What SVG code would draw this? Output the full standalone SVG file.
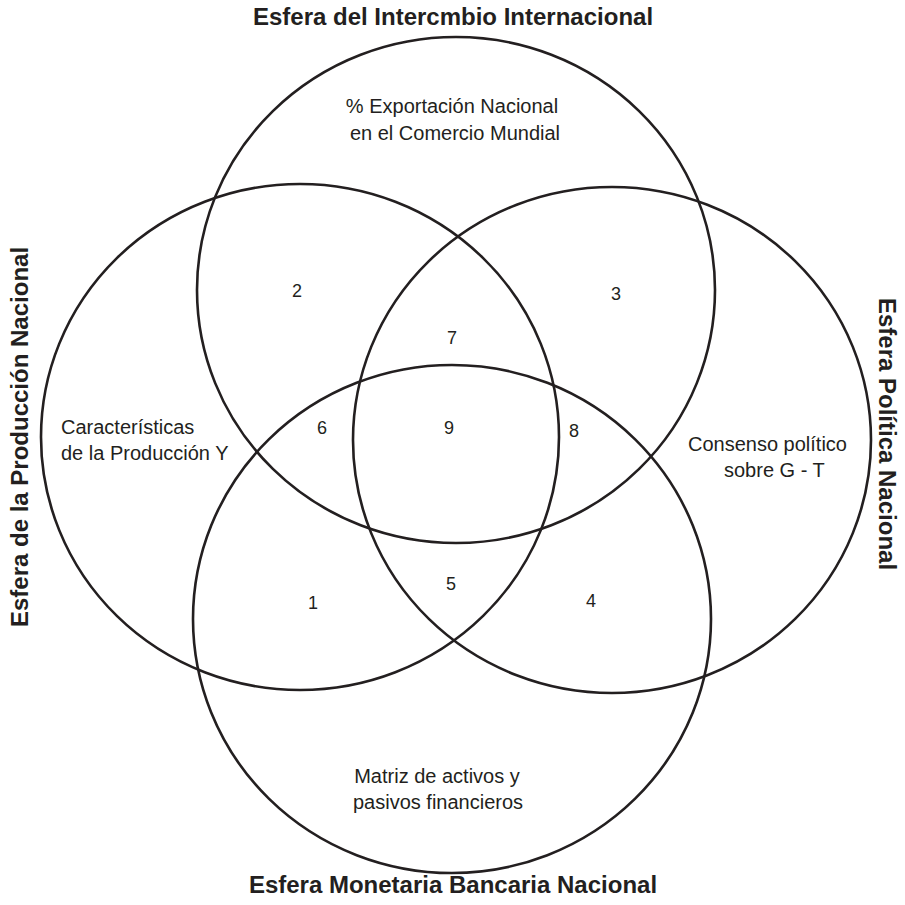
<svg xmlns="http://www.w3.org/2000/svg" width="905" height="905" viewBox="0 0 905 905">
  <style>
    .ring { fill: none; stroke: #231f20; stroke-width: 2.6; }
    .title { font-family: "Liberation Sans", Arial, sans-serif; font-weight: bold; font-size: 24px; fill: #231f20; text-anchor: middle; }
    .lbl { font-family: "Liberation Sans", Arial, sans-serif; font-size: 20px; fill: #231f20; }
    .mid { text-anchor: middle; }
    .num { font-family: "Liberation Sans", Arial, sans-serif; font-size: 18px; fill: #231f20; text-anchor: middle; }
  </style>
  <rect width="905" height="905" fill="#ffffff"/>

  <!-- Spheres -->
  <g id="esfera-intercambio">
    <ellipse class="ring" cx="456" cy="290" rx="259" ry="253"/>
    <text class="title" x="453" y="25">Esfera del Intercmbio Internacional</text>
    <text class="lbl mid" x="452" y="113">% Exportación Nacional</text>
    <text class="lbl mid" x="455" y="140">en el Comercio Mundial</text>
  </g>
  <g id="esfera-produccion">
    <ellipse class="ring" cx="300" cy="437" rx="259" ry="253"/>
    <text class="title" transform="translate(28 437) rotate(-90)">Esfera de la Producción Nacional</text>
    <text class="lbl" x="61" y="434">Características</text>
    <text class="lbl" x="61" y="460">de la Producción Y</text>
  </g>
  <g id="esfera-politica">
    <ellipse class="ring" cx="612" cy="440" rx="259" ry="253"/>
    <text class="title" transform="translate(879 434) rotate(90)">Esfera Política Nacional</text>
    <text class="lbl" x="688" y="451">Consenso político</text>
    <text class="lbl" x="724" y="477">sobre G - T</text>
  </g>
  <g id="esfera-monetaria">
    <ellipse class="ring" cx="452" cy="619" rx="259" ry="254"/>
    <text class="title" x="453" y="893">Esfera Monetaria Bancaria Nacional</text>
    <text class="lbl mid" x="437" y="783">Matriz de activos y</text>
    <text class="lbl mid" x="438" y="809">pasivos financieros</text>
  </g>

  <!-- Intersection numbers -->
  <g id="zonas">
    <text class="num" x="297" y="297">2</text>
    <text class="num" x="616" y="300">3</text>
    <text class="num" x="452" y="344">7</text>
    <text class="num" x="322" y="434">6</text>
    <text class="num" x="449" y="434">9</text>
    <text class="num" x="574" y="437">8</text>
    <text class="num" x="451" y="590">5</text>
    <text class="num" x="313" y="609">1</text>
    <text class="num" x="591" y="607">4</text>
  </g>
</svg>
